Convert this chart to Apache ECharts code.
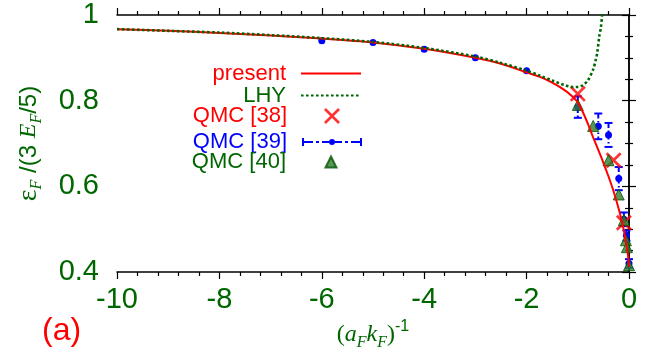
<!DOCTYPE html>
<html>
<head>
<meta charset="utf-8">
<script src="https://cdn.jsdelivr.net/npm/echarts@6/dist/echarts.min.js"></script>
<style>
  html, body { margin: 0; padding: 0; background: #fff; }
  #chart { width: 664px; height: 357px; }
</style>
</head>
<body>
<div id="chart"></div>
<script>
// present theory curve
const presentX = [-10, -9, -8, -7, -6, -5, -4, -3, -2.5, -2, -1.75, -1.5, -1.25, -1.1, -1, -0.9, -0.8, -0.7, -0.6, -0.5, -0.4, -0.3, -0.2, -0.15, -0.1, -0.05, -0.02, 0]
const presentY = [0.967, 0.963, 0.958, 0.952, 0.945, 0.936, 0.921, 0.900, 0.886, 0.866, 0.856, 0.842, 0.824, 0.809, 0.796, 0.773, 0.745, 0.714, 0.685, 0.655, 0.623, 0.588, 0.547, 0.523, 0.497, 0.463, 0.440, 0.412]

// LHY expansion (dotted)
const lhyX = [-10, -9, -8, -7, -6, -5, -4, -3, -2.5, -2, -1.75, -1.5, -1.25, -1.1, -1, -0.9, -0.8, -0.7, -0.65, -0.62, -0.58, -0.55, -0.52]
const lhyY = [0.967, 0.963, 0.959, 0.953, 0.946, 0.937, 0.923, 0.903, 0.888, 0.870, 0.859, 0.847, 0.836, 0.832, 0.832, 0.836, 0.848, 0.873, 0.895, 0.912, 0.951, 0.970, 1.006]

// QMC [38]
const qmc38X = [-1, -0.3, -0.1]
const qmc38Y = [0.816, 0.661, 0.515]

// QMC [39] with error bars
const qmc39X = [-6, -5, -4, -3, -2, -1, -0.6, -0.4, -0.2, -0.1, -0.05, 0]
const qmc39Y = [0.940, 0.936, 0.920, 0.900, 0.870, 0.785, 0.740, 0.720, 0.618, 0.523, 0.485, 0.420]
const qmc39Err = [0, 0, 0, 0, 0, 0.025, 0.030, 0.028, 0.027, 0.016, 0.012, 0.010]

// QMC [40]
const qmc40X = [-1, -0.7, -0.4, -0.2, -0.1, -0.06, -0.04, 0]
const qmc40Y = [0.790, 0.741, 0.661, 0.581, 0.521, 0.474, 0.458, 0.416]

const xTicks = { min: -10, max: 0, interval: 2 }
const yTicks = { min: 0.4, max: 1, interval: 0.2 }

const RED = '#ff0000'
const GREEN = '#006600'
const BLUE = '#0000ff'

const pairs = (xs, ys) => xs.map((x, i) => [x, ys[i]])

const crossPath = 'path://M0,1.2L1.2,0L5,3.8L8.8,0L10,1.2L6.2,5L10,8.8L8.8,10L5,6.2L1.2,10L0,8.8L3.8,5Z'
const errBarIcon = 'path://M0,0h2v8h-2z M2,3h9v2h-9z M14,3h3v2h-3z M20,3h7v2h-7z M27,4a3,3 0 1,0 6,0a3,3 0 1,0 -6,0z M33,3h7v2h-7z M43,3h3v2h-3z M49,3h9v2h-9z M58,0h2v8h-2z'

const renderErrorBar = (params, api) => {
  const x = api.value(0)
  const y = api.value(1)
  const err = api.value(2)
  const c = api.coord([x, y])
  const children = []
  if (err > 0) {
    const top = api.coord([x, y + err])
    const bot = api.coord([x, y - err])
    const solid = { stroke: BLUE, lineWidth: 2 }
    children.push(
      { type: 'line', shape: { x1: top[0], y1: top[1], x2: bot[0], y2: bot[1] }, style: { stroke: BLUE, lineWidth: 2, lineDash: [5, 2.5, 1.5, 2.5] } },
      { type: 'line', shape: { x1: top[0] - 4, y1: top[1], x2: top[0] + 4, y2: top[1] }, style: solid },
      { type: 'line', shape: { x1: bot[0] - 4, y1: bot[1], x2: bot[0] + 4, y2: bot[1] }, style: solid }
    )
  }
  children.push({ type: 'circle', shape: { cx: c[0], cy: c[1], r: 3.5 }, style: { fill: BLUE } })
  return { type: 'group', children }
}

// one legend per row: text right-aligned at x=287, icon centred at x=332
const TEXT_END = 287
const ICON_MID = 332
const legendRow = (name, color, yc, w, h, extra) => {
  const iconLeft = ICON_MID - w / 2
  return {
    data: [name],
    right: 664 - (iconLeft + w),
    top: yc - h / 2,
    padding: 0,
    align: 'right',
    selectedMode: false,
    itemWidth: w,
    itemHeight: h,
    textStyle: { color, fontSize: 22, fontFamily: 'Liberation Sans', padding: [0, iconLeft - 5 - TEXT_END, 0, 0] },
    ...extra
  }
}

const axisCommon = {
  axisLine: { show: true, lineStyle: { color: '#000', width: 1.5 } },
  axisTick: { show: true, inside: false, length: 7, lineStyle: { color: '#000', width: 1.2 } },
  minorTick: { show: true, length: 4, lineStyle: { color: '#000', width: 1.2 } },
  splitLine: { show: false }
}

const option = {
  animation: false,
  backgroundColor: '#fff',
  grid: { left: 117, right: 35, top: 15, bottom: 85 },
  legend: [
    legendRow('present', RED, 69.5, 60, 14, { itemStyle: { opacity: 0 } }),
    legendRow('LHY', GREEN, 91.5, 60, 14, { itemStyle: { opacity: 0 } }),
    legendRow('QMC [38]', RED, 113, 16, 16),
    legendRow('QMC [39]', BLUE, 135, 60, 8, { data: [{ name: 'QMC [39]', icon: errBarIcon }] }),
    legendRow('QMC [40]', GREEN, 156.5, 11, 11)
  ],
  xAxis: [
    {
      type: 'value', ...xTicks, position: 'bottom', ...axisCommon,
      minorTick: { ...axisCommon.minorTick, splitNumber: 5 },
      axisLabel: { color: GREEN, fontSize: 29, fontFamily: 'Liberation Sans', margin: 13 },
      name: '({it|a}{sub|F}{it|k}{sub|F}){sup|-1}',
      nameLocation: 'middle',
      nameGap: 40,
      nameTextStyle: {
        color: GREEN, fontSize: 24, fontFamily: 'Liberation Serif', lineHeight: 32,
        rich: {
          it: { color: GREEN, fontSize: 24, fontFamily: 'Liberation Serif', fontStyle: 'italic', lineHeight: 32 },
          sub: { color: GREEN, fontSize: 16, fontFamily: 'Liberation Serif', fontStyle: 'italic', lineHeight: 16, verticalAlign: 'bottom' },
          sup: { color: GREEN, fontSize: 16, fontFamily: 'Liberation Sans', lineHeight: 16, verticalAlign: 'top' }
        }
      }
    },
    {
      type: 'value', ...xTicks, position: 'top', ...axisCommon,
      minorTick: { ...axisCommon.minorTick, splitNumber: 5 },
      axisLabel: { show: false }
    }
  ],
  yAxis: [
    {
      type: 'value', ...yTicks, position: 'left', ...axisCommon,
      minorTick: { ...axisCommon.minorTick, splitNumber: 4 },
      axisLabel: { color: GREEN, fontSize: 29, fontFamily: 'Liberation Sans', margin: 18 },
      name: '{eps|ε}{sub|F} /(3 {it|E}{sub|F}/5)',
      nameLocation: 'middle',
      nameRotate: 90,
      nameGap: 72,
      nameTextStyle: {
        color: GREEN, fontSize: 24, fontFamily: 'Liberation Sans', lineHeight: 32,
        rich: {
          eps: { color: GREEN, fontSize: 28, fontFamily: 'Liberation Serif', lineHeight: 32 },
          it: { color: GREEN, fontSize: 24, fontFamily: 'Liberation Serif', fontStyle: 'italic', lineHeight: 32 },
          sub: { color: GREEN, fontSize: 16, fontFamily: 'Liberation Serif', fontStyle: 'italic', lineHeight: 16, verticalAlign: 'bottom' }
        }
      }
    },
    {
      type: 'value', ...yTicks, position: 'right', ...axisCommon,
      minorTick: { ...axisCommon.minorTick, splitNumber: 4 },
      axisLabel: { show: false }
    }
  ],
  graphic: [
    { type: 'text', x: 42, y: 315, style: { text: '(a)', fill: RED, font: '32px "Liberation Sans"' } }
  ],
  series: [
    {
      name: 'present',
      type: 'line',
      data: pairs(presentX, presentY),
      symbol: 'none',
      smooth: 0.3,
      color: RED,
      lineStyle: { color: RED, width: 2 }
    },
    {
      name: 'LHY',
      type: 'line',
      data: pairs(lhyX, lhyY),
      symbol: 'none',
      smooth: 0.3,
      clip: true,
      color: GREEN,
      lineStyle: { color: GREEN, width: 2.6, type: [2.6, 2.4] }
    },
    {
      name: 'QMC [38]',
      type: 'scatter',
      data: pairs(qmc38X, qmc38Y),
      symbol: crossPath,
      symbolSize: 16,
      color: RED,
      itemStyle: { color: RED }
    },
    {
      name: 'QMC [39]',
      type: 'custom',
      data: qmc39X.map((x, i) => [x, qmc39Y[i], qmc39Err[i]]),
      encode: { x: 0, y: 1 },
      renderItem: renderErrorBar,
      color: BLUE,
      itemStyle: { color: BLUE }
    },
    {
      name: 'QMC [40]',
      type: 'scatter',
      data: pairs(qmc40X, qmc40Y),
      symbol: 'triangle',
      symbolSize: 11,
      color: GREEN,
      itemStyle: { color: '#2f7d2f', borderColor: '#005500', borderWidth: 1 }
    }
  ]
}

const chart = echarts.init(document.getElementById('chart'))
chart.setOption(option)
</script>
</body>
</html>
